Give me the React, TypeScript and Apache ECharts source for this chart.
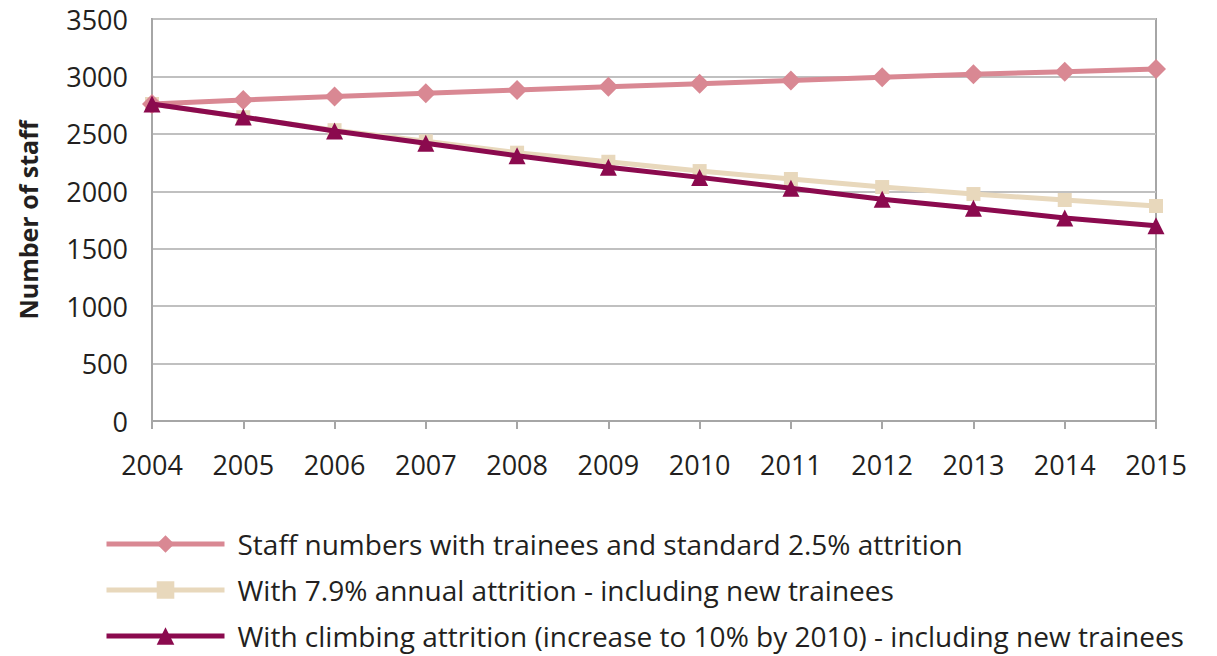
import React, { useEffect, useRef } from "react";
import * as echarts from "echarts";

const years = ["2004", "2005", "2006", "2007", "2008", "2009", "2010", "2011", "2012", "2013", "2014", "2015"];
const standardAttrition = [2760, 2795, 2825, 2853, 2882, 2910, 2937, 2965, 2992, 3020, 3041, 3065];
const annualAttrition = [2760, 2645, 2532, 2435, 2336, 2257, 2176, 2107, 2037, 1976, 1924, 1872];
const climbingAttrition = [2760, 2647, 2525, 2418, 2310, 2210, 2121, 2026, 1930, 1852, 1767, 1700];
const yTicks = { min: 0, max: 3500, interval: 500 };

const seriesNames = [
  "Staff numbers with trainees and standard 2.5% attrition",
  "With 7.9% annual attrition - including new trainees",
  "With climbing attrition (increase to 10% by 2010) - including new trainees",
];
const colors = ["#D98893", "#E8D8BC", "#8B0A4E"];
const legendCenters = [544, 590, 636];

const FONT = "'Open Sans', Lato, sans-serif";
const TEXT = "#231F20";

export default function App() {
  const ref = useRef<HTMLDivElement>(null);
  useEffect(() => {
    if (!ref.current) return;
    const chart = echarts.init(ref.current, undefined, { renderer: "svg" });
    chart.setOption({
      animation: false,
      backgroundColor: "#ffffff",
      textStyle: { fontFamily: FONT, color: TEXT },
      grid: {
        left: 152,
        top: 19,
        right: 61,
        bottom: 235,
        show: true,
        borderColor: "#A6A6A6",
        borderWidth: 2,
      },
      legend: seriesNames.map((n, i) => ({
        orient: "horizontal",
        left: 104,
        top: legendCenters[i] - 16,
        padding: 0,
        itemWidth: 118,
        itemHeight: 22,
        data: [n],
        lineStyle: { width: 5 },
        textStyle: { fontFamily: FONT, fontSize: 28, color: TEXT, lineHeight: 32, padding: [0, 0, 0, 8] },
      })),
      xAxis: {
        type: "category",
        data: years,
        boundaryGap: false,
        axisLine: { lineStyle: { color: "#A6A6A6", width: 2 } },
        axisTick: { show: true, length: 8, lineStyle: { color: "#A6A6A6", width: 2 } },
        axisLabel: { fontSize: 27, color: TEXT, fontFamily: FONT, margin: 30 },
        splitLine: { show: false },
      },
      yAxis: {
        type: "value",
        min: yTicks.min,
        max: yTicks.max,
        interval: yTicks.interval,
        name: "Number of staff",
        nameLocation: "middle",
        nameGap: 112,
        nameTextStyle: { fontSize: 25, fontWeight: "bold", color: TEXT, fontFamily: FONT },
        axisLine: { show: true, lineStyle: { color: "#A6A6A6", width: 2 } },
        axisTick: { show: false },
        axisLabel: { fontSize: 27, color: TEXT, fontFamily: FONT, margin: 24, formatter: (v: number) => String(v) },
        splitLine: { lineStyle: { color: "#C0C0C0", width: 2 } },
      },
      series: [
        {
          name: seriesNames[0],
          type: "line",
          data: standardAttrition,
          symbol: "diamond",
          symbolSize: 20,
          lineStyle: { color: colors[0], width: 5 },
          itemStyle: { color: colors[0] },
          z: 3,
        },
        {
          name: seriesNames[1],
          type: "line",
          data: annualAttrition,
          symbol: "rect",
          symbolSize: 14,
          lineStyle: { color: colors[1], width: 5 },
          itemStyle: { color: colors[1] },
          z: 2,
        },
        {
          name: seriesNames[2],
          type: "line",
          data: climbingAttrition,
          symbol: "triangle",
          symbolSize: 17,
          lineStyle: { color: colors[2], width: 5 },
          itemStyle: { color: colors[2] },
          z: 4,
        },
      ],
    });
    return () => chart.dispose();
  }, []);
  return <div ref={ref} style={{ width: 1217, height: 656, position: "absolute", left: 0, top: 0 }} />;
}
